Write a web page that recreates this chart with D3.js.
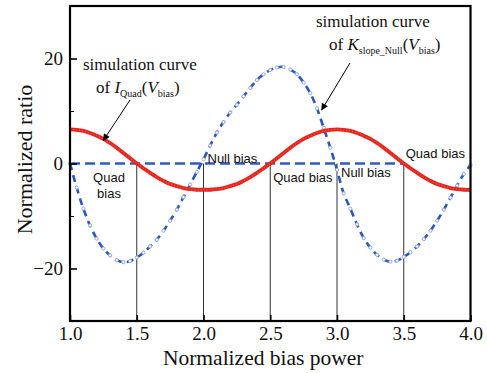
<!DOCTYPE html>
<html>
<head>
<meta charset="utf-8">
<script src="https://cdn.jsdelivr.net/npm/d3@7/dist/d3.min.js"></script>
<style>
  body { margin: 0; background: #fff; }
  svg { display: block; }
  .serif { font-family: "Liberation Serif", "Times New Roman", serif; }
  .sans { font-family: "Liberation Sans", Arial, sans-serif; }
</style>
</head>
<body>
<script>
// x positions (normalized bias power), 0.05 step
var biasX = [1.0, 1.05, 1.1, 1.15, 1.2, 1.25, 1.3, 1.35, 1.4, 1.45, 1.5, 1.55, 1.6, 1.65, 1.7, 1.75, 1.8, 1.85, 1.9, 1.95,
             2.0, 2.05, 2.1, 2.15, 2.2, 2.25, 2.3, 2.35, 2.4, 2.45, 2.5, 2.55, 2.6, 2.65, 2.7, 2.75, 2.8, 2.85, 2.9, 2.95,
             3.0, 3.05, 3.1, 3.15, 3.2, 3.25, 3.3, 3.35, 3.4, 3.45, 3.5, 3.55, 3.6, 3.65, 3.7, 3.75, 3.8, 3.85, 3.9, 3.95, 4.0];

// simulation curve of I_Quad (red)
var quadValues = [6.5, 6.4, 6.2, 5.8, 5.3, 4.7, 3.9, 3.0, 2.0, 1.0, 0.0, -0.9, -1.8, -2.6, -3.3, -3.9, -4.3, -4.7, -4.9, -5.0,
                  -5.0, -5.0, -4.9, -4.7, -4.3, -3.9, -3.3, -2.6, -1.8, -0.9, 0.0, 1.0, 2.0, 3.0, 3.9, 4.7, 5.3, 5.8, 6.2, 6.4,
                  6.5, 6.4, 6.2, 5.8, 5.3, 4.7, 3.9, 3.0, 2.0, 1.0, 0.0, -0.9, -1.8, -2.6, -3.3, -3.9, -4.3, -4.7, -4.9, -5.0, -5.0];

// simulation curve of K_slope_Null (blue)
var slopeValues = [0.0, -4.6, -8.6, -11.8, -14.3, -16.2, -17.5, -18.4, -18.8, -18.6, -17.9, -17.0, -15.8, -14.5, -12.8, -10.9, -8.8, -6.4, -4.0, -1.6,
                   0.8, 3.4, 5.9, 7.9, 9.7, 11.2, 12.8, 14.4, 15.9, 17.0, 17.8, 18.3, 18.4, 17.9, 17.0, 15.4, 13.4, 10.5, 6.8, 3.0,
                   -1.2, -5.7, -8.6, -11.6, -14.2, -16.0, -17.4, -18.3, -18.7, -18.5, -17.8, -16.9, -15.8, -14.4, -12.8, -10.9, -8.8, -6.5, -4.2, -2.0, -0.3];

var xTicks = [1.0, 1.5, 2.0, 2.5, 3.0, 3.5, 4.0];
var yTicks = [-20, 0, 20];
var yMinorTicks = [-10, 10];

// operating points marked with thin vertical lines
var biasMarks = [1.5, 2.0, 2.5, 3.0, 3.5];
var biasLabels = [
    {x: 1.0, text: ["Quad", "bias"]},
    {x: 2.0, text: ["Null bias"]},
    {x: 2.5, text: ["Quad bias"]},
    {x: 3.0, text: ["Null bias"]},
    {x: 3.5, text: ["Quad bias"]}
];

var width = 487,
    height = 373;

var margin = {top: 6, right: 16.5, bottom: 52, left: 70};

var x = d3.scaleLinear()
    .domain([1, 4])
    .range([margin.left, width - margin.right]);

var y = d3.scaleLinear()
    .domain([-30, 30])
    .range([height - margin.bottom, margin.top]);

var svg = d3.select("body").append("svg")
    .attr("width", width)
    .attr("height", height);

var defs = svg.append("defs");
defs.append("marker")
    .attr("id", "arrow")
    .attr("viewBox", "0 0 10 10")
    .attr("refX", 9)
    .attr("refY", 5)
    .attr("markerWidth", 9)
    .attr("markerHeight", 7)
    .attr("markerUnits", "userSpaceOnUse")
    .attr("orient", "auto")
  .append("path")
    .attr("d", "M0,0 L10,5 L0,10 Z")
    .attr("fill", "#000");

// thin vertical guide lines from zero down to the axis
svg.append("g")
    .selectAll("line")
    .data(biasMarks)
  .enter().append("line")
    .attr("x1", function(d) { return x(d); })
    .attr("x2", function(d) { return x(d); })
    .attr("y1", y(0))
    .attr("y2", y(-30))
    .attr("stroke", "#333")
    .attr("stroke-width", 1);

// zero reference dashed line, from 1.0 to 3.5
svg.append("line")
    .attr("x1", x(1.0))
    .attr("x2", x(3.5))
    .attr("y1", y(0))
    .attr("y2", y(0))
    .attr("stroke", "#2e5cc0")
    .attr("stroke-width", 2.6)
    .attr("stroke-dasharray", "10,5");

var quadData = biasX.map(function(d, i) { return {x: d, v: quadValues[i]}; });
var slopeData = biasX.map(function(d, i) { return {x: d, v: slopeValues[i]}; });

var line = d3.line()
    .x(function(d) { return x(d.x); })
    .y(function(d) { return y(d.v); })
    .curve(d3.curveCatmullRom);

// blue curve: dashes with light open circles
svg.append("path")
    .datum(slopeData)
    .attr("d", line)
    .attr("fill", "none")
    .attr("stroke", "#2a56bd")
    .attr("stroke-width", 2.6)
    .attr("stroke-dasharray", "7,5");

svg.append("g")
    .selectAll("circle")
    .data(slopeData)
  .enter().append("circle")
    .attr("cx", function(d) { return x(d.x); })
    .attr("cy", function(d) { return y(d.v); })
    .attr("r", 1.6)
    .attr("fill", "#fff")
    .attr("stroke", "#8fa9e2")
    .attr("stroke-width", 1);

// red curve
svg.append("path")
    .datum(quadData)
    .attr("d", line)
    .attr("fill", "none")
    .attr("stroke", "#e8231c")
    .attr("stroke-width", 3.8);

svg.append("path")
    .datum(quadData)
    .attr("d", line)
    .attr("fill", "none")
    .attr("stroke", "#f26a5e")
    .attr("stroke-width", 1)
    .attr("stroke-dasharray", "1,2");

// axes
var xAxis = d3.axisBottom(x)
    .tickValues(xTicks)
    .tickFormat(d3.format(".1f"))
    .tickSizeInner(-6)
    .tickSizeOuter(0)
    .tickPadding(6);

var gx = svg.append("g")
    .attr("transform", "translate(0," + y(-30) + ")")
    .call(xAxis);

var yAxis = d3.axisLeft(y)
    .tickValues(yTicks)
    .tickSizeInner(-7)
    .tickSizeOuter(0)
    .tickPadding(7);

var gy = svg.append("g")
    .attr("transform", "translate(" + x(1) + ",0)")
    .call(yAxis);

var gyMinor = svg.append("g")
    .attr("transform", "translate(" + x(1) + ",0)")
    .call(d3.axisLeft(y).tickValues(yMinorTicks).tickFormat("").tickSizeInner(-4).tickSizeOuter(0));

[gx, gy, gyMinor].forEach(function(g) {
    g.select(".domain").remove();
    g.selectAll(".tick line").attr("stroke", "#000").attr("stroke-width", 1.6);
    g.selectAll("text")
        .attr("class", "serif")
        .attr("font-size", 19)
        .attr("fill", "#111");
});
gyMinor.selectAll(".tick line").attr("stroke-width", 1);

// frame
svg.append("rect")
    .attr("x", x(1))
    .attr("y", y(30))
    .attr("width", x(4) - x(1))
    .attr("height", y(-30) - y(30))
    .attr("fill", "none")
    .attr("stroke", "#000")
    .attr("stroke-width", 2.2);

// axis titles
svg.append("text")
    .attr("class", "serif")
    .attr("x", (x(1) + x(4)) / 2 - 7)
    .attr("y", 365)
    .attr("text-anchor", "middle")
    .attr("font-size", 21.5)
    .attr("fill", "#111")
    .text("Normalized bias power");

svg.append("text")
    .attr("class", "serif")
    .attr("transform", "translate(32," + (y(0) - 4) + ") rotate(-90)")
    .attr("text-anchor", "middle")
    .attr("font-size", 22)
    .attr("fill", "#111")
    .text("Normalized ratio");

// bias labels
var labelPos = [
    {dx: 39, dy: 18},
    {dx: 4, dy: -1},
    {dx: 3, dy: 18},
    {dx: 4, dy: 13},
    {dx: 2, dy: -6}
];
biasLabels.forEach(function(d, i) {
    var t = svg.append("text")
        .attr("class", "sans")
        .attr("font-size", 13)
        .attr("fill", "#111")
        .attr("text-anchor", d.text.length > 1 ? "middle" : "start")
        .attr("x", x(d.x) + labelPos[i].dx)
        .attr("y", y(0) + labelPos[i].dy);
    d.text.forEach(function(s, j) {
        t.append("tspan")
            .attr("x", x(d.x) + labelPos[i].dx)
            .attr("dy", j === 0 ? 0 : 16)
            .text(s);
    });
});

// annotations
function annotate(tx, ty, sub1, arrowFrom, tipX, tipV) {
    var g = svg.append("g").attr("class", "serif").attr("fill", "#111");
    g.append("text")
        .attr("x", tx)
        .attr("y", ty)
        .attr("font-size", 17)
        .text("simulation curve");
    var t = g.append("text")
        .attr("x", tx + 13)
        .attr("y", ty + 23)
        .attr("font-size", 17);
    t.append("tspan").text("of ");
    t.append("tspan").attr("font-style", "italic").text(sub1[0]);
    t.append("tspan").attr("font-size", 10).attr("dy", 4).text(sub1[1]);
    t.append("tspan").attr("dy", -4).text("(");
    t.append("tspan").attr("font-style", "italic").text("V");
    t.append("tspan").attr("font-size", 10).attr("dy", 4).text("bias");
    t.append("tspan").attr("dy", -4).text(")");
    g.append("line")
        .attr("x1", arrowFrom[0])
        .attr("y1", arrowFrom[1])
        .attr("x2", x(tipX))
        .attr("y2", y(tipV))
        .attr("stroke", "#000")
        .attr("stroke-width", 1)
        .attr("marker-end", "url(#arrow)");
}

annotate(83, 70, ["I", "Quad"], [130, 100], 1.25, 4.4);
annotate(316, 27, ["K", "slope_Null"], [350, 63], 2.885, 10.2);
</script>
</body>
</html>
